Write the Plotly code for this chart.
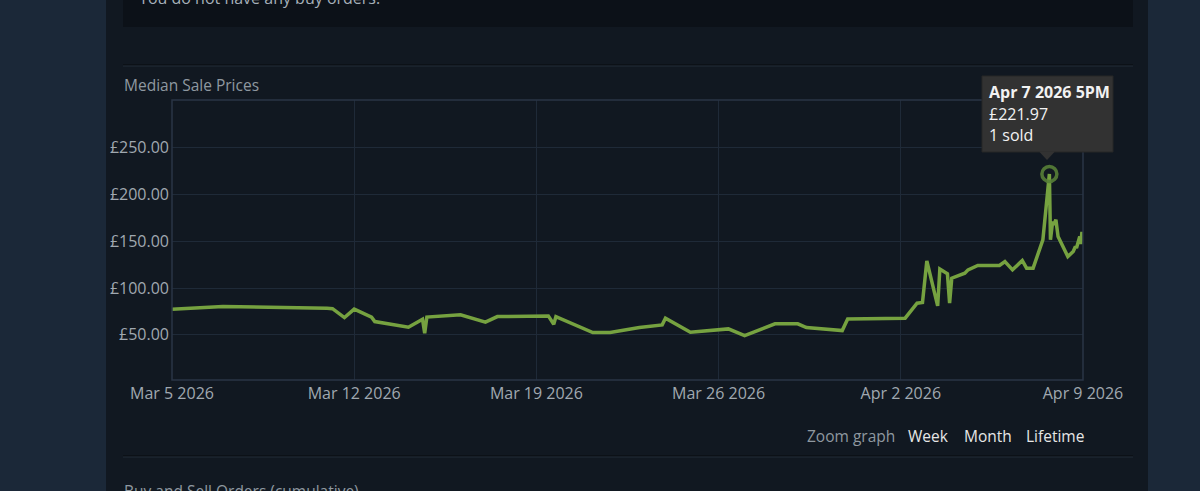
import plotly.graph_objects as go

# median sale prices (GBP)
sale_times = [
    "2026-03-05 00:00", "2026-03-06 23:00", "2026-03-10 23:00", "2026-03-11 04:00",
    "2026-03-11 15:00", "2026-03-12 00:00", "2026-03-12 16:00", "2026-03-12 19:00",
    "2026-03-14 02:00", "2026-03-14 15:00", "2026-03-14 17:00", "2026-03-14 19:00",
    "2026-03-16 02:00", "2026-03-17 01:00", "2026-03-17 12:00", "2026-03-19 11:00",
    "2026-03-19 16:00", "2026-03-19 18:00", "2026-03-21 04:00", "2026-03-21 20:00",
    "2026-03-22 23:00", "2026-03-23 20:00", "2026-03-23 23:00", "2026-03-24 22:00",
    "2026-03-26 09:00", "2026-03-27 00:00", "2026-03-28 04:00", "2026-03-29 01:00",
    "2026-03-29 09:00", "2026-03-30 18:00", "2026-03-30 23:00", "2026-04-02 04:00",
    "2026-04-02 15:00", "2026-04-02 20:00", "2026-04-03 00:00", "2026-04-03 10:00",
    "2026-04-03 12:00", "2026-04-03 19:00", "2026-04-03 21:00", "2026-04-03 23:00",
    "2026-04-04 11:00", "2026-04-04 14:00", "2026-04-04 23:00", "2026-04-05 19:00",
    "2026-04-06 00:00", "2026-04-06 07:00", "2026-04-06 16:00", "2026-04-06 20:00",
    "2026-04-07 02:00", "2026-04-07 11:00", "2026-04-07 17:00", "2026-04-07 18:00",
    "2026-04-07 20:00", "2026-04-07 21:00", "2026-04-07 23:00", "2026-04-08 01:00",
    "2026-04-08 10:00", "2026-04-08 15:00", "2026-04-08 17:00", "2026-04-08 18:00",
    "2026-04-08 21:00", "2026-04-08 22:00", "2026-04-08 23:00", "2026-04-09 00:00",
]
sale_prices = [
    77.5, 80.3, 78.5, 78.0,
    68.5, 77.5, 69.0, 64.2,
    58.2, 66.8, 51.8, 69.0,
    71.4, 63.6, 69.6, 70.3,
    61.4, 69.6, 52.5, 52.5,
    57.8, 60.7, 67.9, 52.9,
    56.4, 49.3, 61.8, 61.8,
    57.8, 54.6, 67.1, 67.9,
    83.9, 84.6, 129.1, 81.0,
    120.3, 115.2, 83.9, 110.6,
    116.0, 119.5, 124.2, 124.2,
    128.4, 119.5, 129.5, 121.3,
    121.3, 151.6, 221.97, 151.6,
    171.2, 167.6, 173.0, 155.1,
    133.7, 139.1, 144.4, 142.8,
    155.1, 147.0, 160.0, 152.0,
]

highlight_time = "2026-04-07 17:00"
highlight_price = 221.97
tooltip_lines = ["<b>Apr 7 2026 5PM</b>", "£221.97", "1 sold"]

x_tickvals = ["2026-03-05", "2026-03-12", "2026-03-19", "2026-03-26", "2026-04-02", "2026-04-09"]
x_ticktext = ["Mar 5 2026", "Mar 12 2026", "Mar 19 2026", "Mar 26 2026", "Apr 2 2026", "Apr 9 2026"]
y_tickvals = [50, 100, 150, 200, 250]
y_ticktext = ["£50.00", "£100.00", "£150.00", "£200.00", "£250.00"]

FONT = "Open Sans"
PAGE_BG = "#1b2838"
PANEL_BG = "#111821"
GRID = "#1f2a38"
BORDER = "#2a3545"
GREY = "#8f98a0"
LINE = "#76a240"

# plot area in pixels
L, T, W, H = 172, 100, 911, 280


def px(x):
    return (x - L) / W


def py(y):
    return (T + H - y) / H


fig = go.Figure()
fig.add_trace(
    go.Scatter(
        x=sale_times,
        y=sale_prices,
        mode="lines",
        line=dict(color=LINE, width=3.5),
        hoverinfo="skip",
    )
)
fig.add_trace(
    go.Scatter(
        x=[highlight_time],
        y=[highlight_price],
        mode="markers",
        marker=dict(symbol="circle-open", size=15, color="rgba(88,128,55,0.9)",
                    line=dict(width=3.5)),
        hoverinfo="skip",
    )
)

shapes = [
    # centre panel
    dict(type="rect", xref="paper", yref="paper", x0=px(106), x1=px(1148), y0=py(491), y1=py(0),
         fillcolor=PANEL_BG, line_width=0, layer="below"),
    # buy orders box
    dict(type="rect", xref="paper", yref="paper", x0=px(123), x1=px(1133), y0=py(27), y1=py(-5),
         fillcolor="#0c1118", line_width=0, layer="below"),
    # separators
    dict(type="line", xref="paper", yref="paper", x0=px(123), x1=px(1133), y0=py(65), y1=py(65),
         line=dict(color="#080b0f", width=1), layer="below"),
    dict(type="line", xref="paper", yref="paper", x0=px(123), x1=px(1133), y0=py(66), y1=py(66),
         line=dict(color="#222c38", width=1), layer="below"),
    dict(type="line", xref="paper", yref="paper", x0=px(123), x1=px(1133), y0=py(456), y1=py(456),
         line=dict(color="#080b0f", width=1), layer="below"),
    dict(type="line", xref="paper", yref="paper", x0=px(123), x1=px(1133), y0=py(457), y1=py(457),
         line=dict(color="#222c38", width=1), layer="below"),
    # plot border
    dict(type="rect", xref="paper", yref="paper", x0=0, x1=1, y0=0, y1=1,
         line=dict(color=BORDER, width=1.5), layer="above"),
    # tooltip box and pointer
    dict(type="rect", xref="paper", yref="paper", x0=px(982), x1=px(1113), y0=py(152), y1=py(76),
         fillcolor="#323232", line=dict(color="#262626", width=1), layer="above"),
    dict(type="path", xref="paper", yref="paper",
         path=f"M {px(1039)},{py(151.5)} L {px(1055)},{py(151.5)} L {px(1047)},{py(160)} Z",
         fillcolor="#323232", line_width=0, layer="above"),
]

annotations = [
    dict(text="You do not have any buy orders.", x=px(137), y=py(-2), xref="paper", yref="paper",
         xanchor="left", yanchor="middle", showarrow=False, font=dict(family=FONT, size=16, color="#a6b0b8")),
    dict(text="Median Sale Prices", x=px(122), y=py(85), xref="paper", yref="paper",
         xanchor="left", yanchor="middle", showarrow=False, font=dict(family=FONT, size=15.5, color=GREY)),
    dict(text="Buy and Sell Orders (cumulative)", x=px(122), y=py(491), xref="paper", yref="paper",
         xanchor="left", yanchor="middle", showarrow=False, font=dict(family=FONT, size=15.5, color=GREY)),
    dict(text="Zoom graph", x=px(897), y=py(436), xref="paper", yref="paper",
         xanchor="right", yanchor="middle", showarrow=False, font=dict(family=FONT, size=15.5, color=GREY)),
    dict(text="Week", x=px(906), y=py(436), xref="paper", yref="paper",
         xanchor="left", yanchor="middle", showarrow=False, font=dict(family=FONT, size=15.5, color="#e6e6e6")),
    dict(text="Month", x=px(962), y=py(436), xref="paper", yref="paper",
         xanchor="left", yanchor="middle", showarrow=False, font=dict(family=FONT, size=15.5, color="#e6e6e6")),
    dict(text="Lifetime", x=px(1024), y=py(436), xref="paper", yref="paper",
         xanchor="left", yanchor="middle", showarrow=False, font=dict(family=FONT, size=15.5, color="#e6e6e6")),
]
for i, line in enumerate(tooltip_lines):
    annotations.append(
        dict(text=line, x=px(987), y=py(92 + 21.5 * i), xref="paper", yref="paper",
             xanchor="left", yanchor="middle", showarrow=False,
             font=dict(family=FONT, size=16, color="#f2f2f2"))
    )

fig.update_layout(
    width=1200,
    height=491,
    margin=dict(l=L, r=1200 - L - W, t=T, b=491 - T - H, pad=0),
    paper_bgcolor=PAGE_BG,
    plot_bgcolor=PANEL_BG,
    showlegend=False,
    hovermode=False,
    shapes=shapes,
    annotations=annotations,
    xaxis=dict(
        range=["2026-03-05", "2026-04-09"],
        tickvals=x_tickvals,
        ticktext=x_ticktext,
        showgrid=True,
        gridcolor=GRID,
        gridwidth=1,
        zeroline=False,
        showline=False,
        ticks="",
        ticklabelstandoff=2,
        tickfont=dict(family=FONT, size=16, color="#a0a8b0"),
    ),
    yaxis=dict(
        range=[1.8, 301],
        tickvals=y_tickvals,
        ticktext=y_ticktext,
        showgrid=True,
        gridcolor=GRID,
        gridwidth=1,
        zeroline=False,
        showline=False,
        ticks="",
        ticklabelstandoff=2,
        tickfont=dict(family=FONT, size=16, color="#a0a8b0"),
    ),
)

# the page should start at the very top-left corner, as the screenshot does
fig.write_html(
    "out.html",
    config={"displayModeBar": False},
    post_script="document.body.style.margin='0px';",
)
